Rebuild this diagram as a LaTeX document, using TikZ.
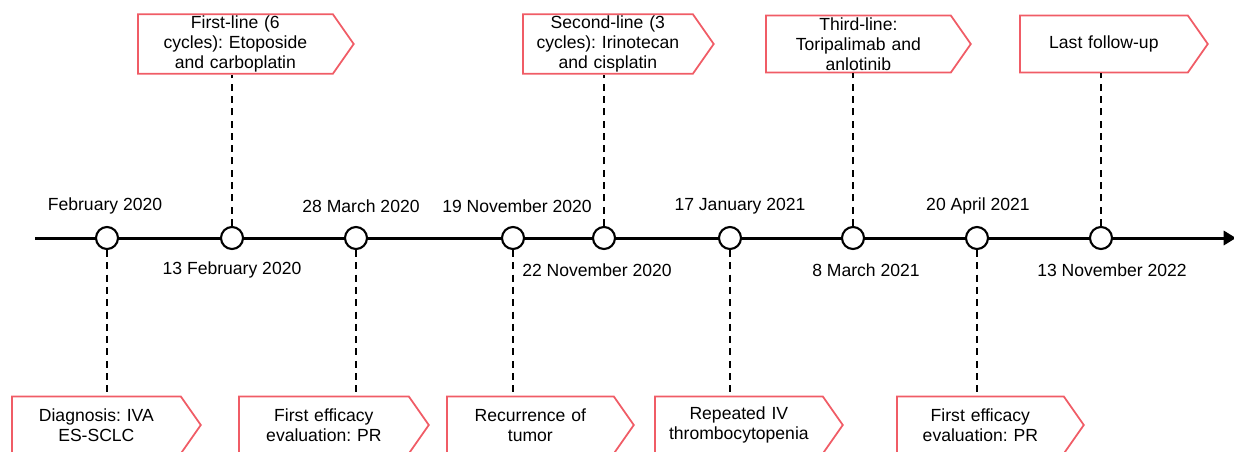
\documentclass[tikz,border=0pt]{standalone}
\usepackage{fontspec}
\setmainfont{Liberation Sans}
\usepackage{xcolor}
\usepackage{tikz}
\usetikzlibrary{arrows.meta,shapes.symbols}
\definecolor{boxred}{RGB}{240,92,102}
\frenchspacing

\tikzset{
evt/.style={circle,draw,line width=1.2pt,fill=white,minimum size=0.44cm,inner sep=0pt},
tag/.style={signal,signal to=east,signal pointer angle=110,draw=boxred,line width=1pt,
  align=center,inner xsep=0pt,inner ysep=1pt,minimum height=1.14cm,anchor=west,
  font=\fontsize{10}{11.3}\selectfont},
guide/.style={line width=1pt,dash pattern=on 4pt off 3pt}
}

\begin{document}
\begin{tikzpicture}[x=0.02cm,y=-0.02cm]
\path[use as bounding box,clip](0,0)rectangle(1234,451);
% time axis
\coordinate(start)at(35,238);
\coordinate(stop)at(1236,238);
\draw[line width=1.7pt,-{Triangle[length=7pt,width=8pt]}](start)--(stop);
\foreach \n/\x in {e1/107,e2/232,e3/356,e4/513,e5/604,e6/730,e7/853,e8/977,e9/1101}
  \node[evt](\n)at(\x,238){};
% dates
\node(d1)at(105,206){February 2020};
\node(d2)at(232,270){13 February 2020};
\node(d3)at(361,206){28 March 2020};
\node(d4)at(517,206){19 November 2020};
\node(d5)at(597,270){22 November 2020};
\node(d6)at(740,206){17 January 2021};
\node(d7)at(866,270){8 March 2021};
\node(d8)at(978,206){20 April 2021};
\node(d9)at(1112,270){13 November 2022};
% treatment boxes above
\node[tag,text width=3.9cm](t1)at(137,44){First-line (6\\cycles): Etoposide\\and carboplatin};
\node[tag,text width=3.4cm](t2)at(522,44){Second-line (3\\cycles): Irinotecan\\and cisplatin};
\node[tag,text width=3.7cm](t3)at(765,44){Third-line:\\Toripalimab and\\anlotinib};
\node[tag,text width=3.36cm](t4)at(1019,44){Last follow-up};
% findings below
\node[tag,text width=3.38cm](b1)at(11,425){Diagnosis: IVA\\ES-SCLC};
\node[tag,text width=3.4cm](b2)at(238,425){First efficacy\\evaluation: PR};
\node[tag,text width=3.34cm](b3)at(446,425){Recurrence of\\tumor};
\node[tag,text width=3.36cm](b4)at(654,425){Repeated IV\\thrombocytopenia};
\node[tag,text width=3.34cm](b5)at(896,425){First efficacy\\evaluation: PR};
% dashed links
\draw[guide](e2.north)--(e2.north|-t1.south);
\draw[guide](e5.north)--(e5.north|-t2.south);
\draw[guide](e7.north)--(e7.north|-t3.south);
\draw[guide](e9.north)--(e9.north|-t4.south);
\draw[guide](e1.south)--(e1.south|-b1.north);
\draw[guide](e3.south)--(e3.south|-b2.north);
\draw[guide](e4.south)--(e4.south|-b3.north);
\draw[guide](e6.south)--(e6.south|-b4.north);
\draw[guide](e8.south)--(e8.south|-b5.north);
\end{tikzpicture}
\end{document}
